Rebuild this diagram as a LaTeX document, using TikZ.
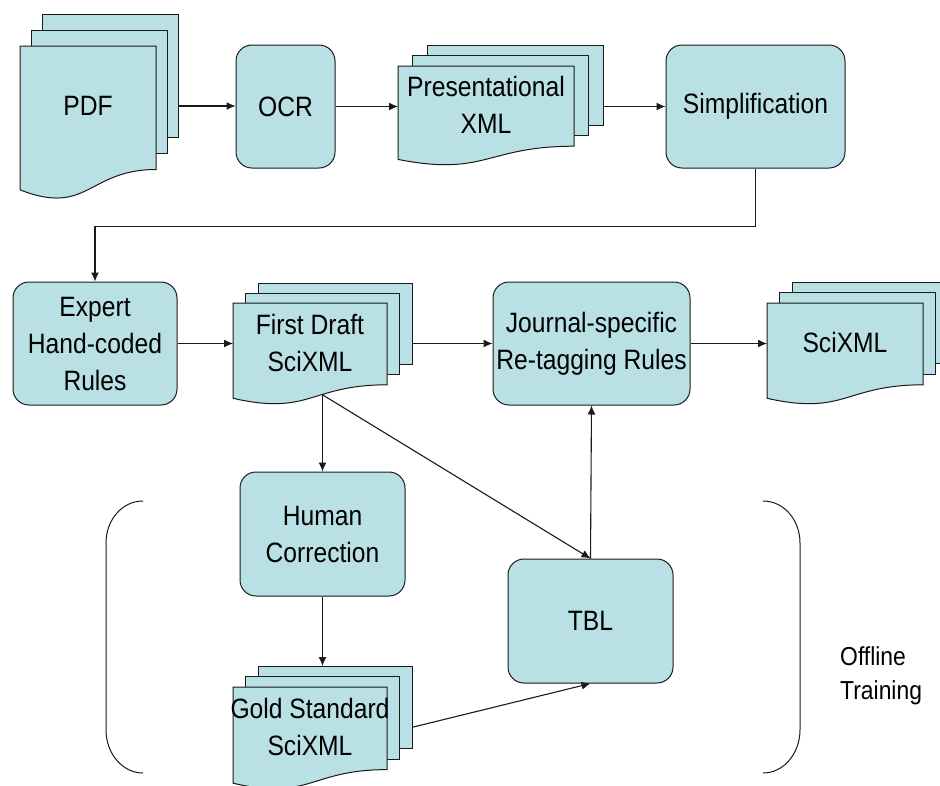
\documentclass[tikz,border=0pt]{standalone}
\usepackage{fontspec}
\setmainfont{Liberation Sans}[FakeStretch=0.88]
\usetikzlibrary{arrows.meta,calc,positioning}
\definecolor{PaperCyan}{HTML}{B9E0E4}
\definecolor{EdgeInk}{HTML}{1A1A1A}
\newcommand{\boxfont}{\fontsize{28}{37}\selectfont}
\newcommand{\sidefont}{\fontsize{26}{34}\selectfont}
% stack of three pages: name, left, top, width, height, dx, dy, text
\newcommand{\docstack}[8]{%
  \pgfmathsetmacro{\dsXa}{#2}\pgfmathsetmacro{\dsXb}{#2+#4}
  \pgfmathsetmacro{\dsXm}{#2+#4/2}
  \pgfmathsetmacro{\dsYa}{#3}
  \pgfmathsetmacro{\dsYr}{#3+0.802*#5}
  \pgfmathsetmacro{\dsYc}{#3+1.1075*#5}
  \pgfmathsetmacro{\dsYl}{#3+0.934*#5}
  \pgfmathsetmacro{\dsW}{#4+2*#6}
  \pgfmathsetmacro{\dsH}{0.987*#5+2*#7}
  \pgfmathsetmacro{\dsCx}{#2+\dsW/2}
  \pgfmathsetmacro{\dsCy}{#3-2*#7+\dsH/2}
  \foreach \k in {2,1} {
    \draw[docpage] ({\dsXa+\k*#6},{\dsYr-\k*#7}) -- ({\dsXa+\k*#6},{\dsYa-\k*#7})
      -- ({\dsXb+\k*#6},{\dsYa-\k*#7}) -- ({\dsXb+\k*#6},{\dsYr-\k*#7}) -- cycle;
  }
  \draw[docpage] (\dsXa,\dsYa) -- (\dsXb,\dsYa) -- (\dsXb,\dsYr)
    .. controls (\dsXm,\dsYr) and (\dsXm,\dsYc) .. (\dsXa,\dsYl) -- cycle;
  \node[inner sep=0,outer sep=0,minimum width=\dsW pt,minimum height=\dsH pt] (#1) at (\dsCx,\dsCy) {};
  \node[doclabel] (#1-t) at (\dsXm,\dsCy) {#8};
  \coordinate (#1-b) at (\dsCx,{#3+0.9*#5});
}

\begin{document}
\begin{tikzpicture}[
  x=1pt,
  y=-1pt,
  >=Latex,
  rbox/.style={draw=EdgeInk,fill=PaperCyan,rounded corners=16pt,line width=1pt,
    align=center,font=\boxfont,inner sep=0pt},
  docpage/.style={draw=EdgeInk,fill=PaperCyan,line width=1pt},
  doclabel/.style={align=center,font=\boxfont,inner sep=0pt},
  flow/.style={-{Latex[length=9pt,width=8pt]},draw=EdgeInk,line width=1.1pt},
  bracket/.style={draw=EdgeInk,line width=1pt}
]
  \useasboundingbox (0,0) rectangle (940,785);

  \docstack{pdf}{20}{46}{136}{154}{11}{16}{PDF}
  \node[rbox,minimum width=99pt,minimum height=123pt] (ocr) at (285.5,106.5) {OCR};
  \docstack{pres}{398}{66}{176}{100}{14.5}{10.5}{Presentational\\XML}
  \node[rbox,minimum width=179pt,minimum height=123pt] (simp) at (755.5,106.5) {Simplification};

  \node[rbox,minimum width=164pt,minimum height=123pt] (expert) at (95,343.5) {Expert\\Hand-coded\\Rules};
  \docstack{fd}{233}{303}{154}{102}{12.5}{10}{First Draft\\SciXML}
  \node[rbox,minimum width=197pt,minimum height=123pt] (journal) at (591.5,343.5) {Journal-specific\\Re-tagging Rules};
  \docstack{sci}{767}{303}{156}{102}{12.5}{10.5}{SciXML}

  \node[rbox,minimum width=165pt,minimum height=124pt] (human) at (322.5,534) {Human\\Correction};
  \node[rbox,minimum width=165pt,minimum height=124pt] (tbl) at (590.5,621) {TBL};
  \docstack{gold}{233}{687}{154}{103}{12.5}{10.5}{Gold Standard\\SciXML}

  \node[anchor=west,align=left,font=\sidefont,inner sep=0pt] (offline) at (840,676) {Offline\\Training};

  \draw[flow] (pdf.east) -- (pdf.east -| ocr.west);
  \draw[flow] (ocr.east) -- (ocr.east -| pres.west);
  \draw[flow] (simp.west -| pres.east) -- (simp.west);
  \draw[flow] (simp.south) -- ++(0,58) -| (expert.north);
  \draw[flow] (expert.east) -- (expert.east -| fd.west);
  \draw[flow] (journal.west -| fd.east) -- (journal.west);
  \draw[flow] (journal.east) -- (journal.east -| sci.west);
  \draw[flow] (fd-b) -- (human.north);
  \draw[flow] (fd-b) -- (tbl.north);
  \draw[flow] (tbl.north) -- (journal.south);
  \draw[flow] (human.south) -- (gold.north);
  \draw[flow] (gold.east) -- (tbl.south);

  \draw[bracket] (143,501) .. controls (122,501) and (106,520) .. (106,543) -- (106,730)
    .. controls (106,753) and (122,773) .. (143,773);
  \draw[bracket] (763,501) .. controls (784,501) and (800,520) .. (800,543) -- (800,730)
    .. controls (800,753) and (784,773) .. (763,773);
\end{tikzpicture}
\end{document}
